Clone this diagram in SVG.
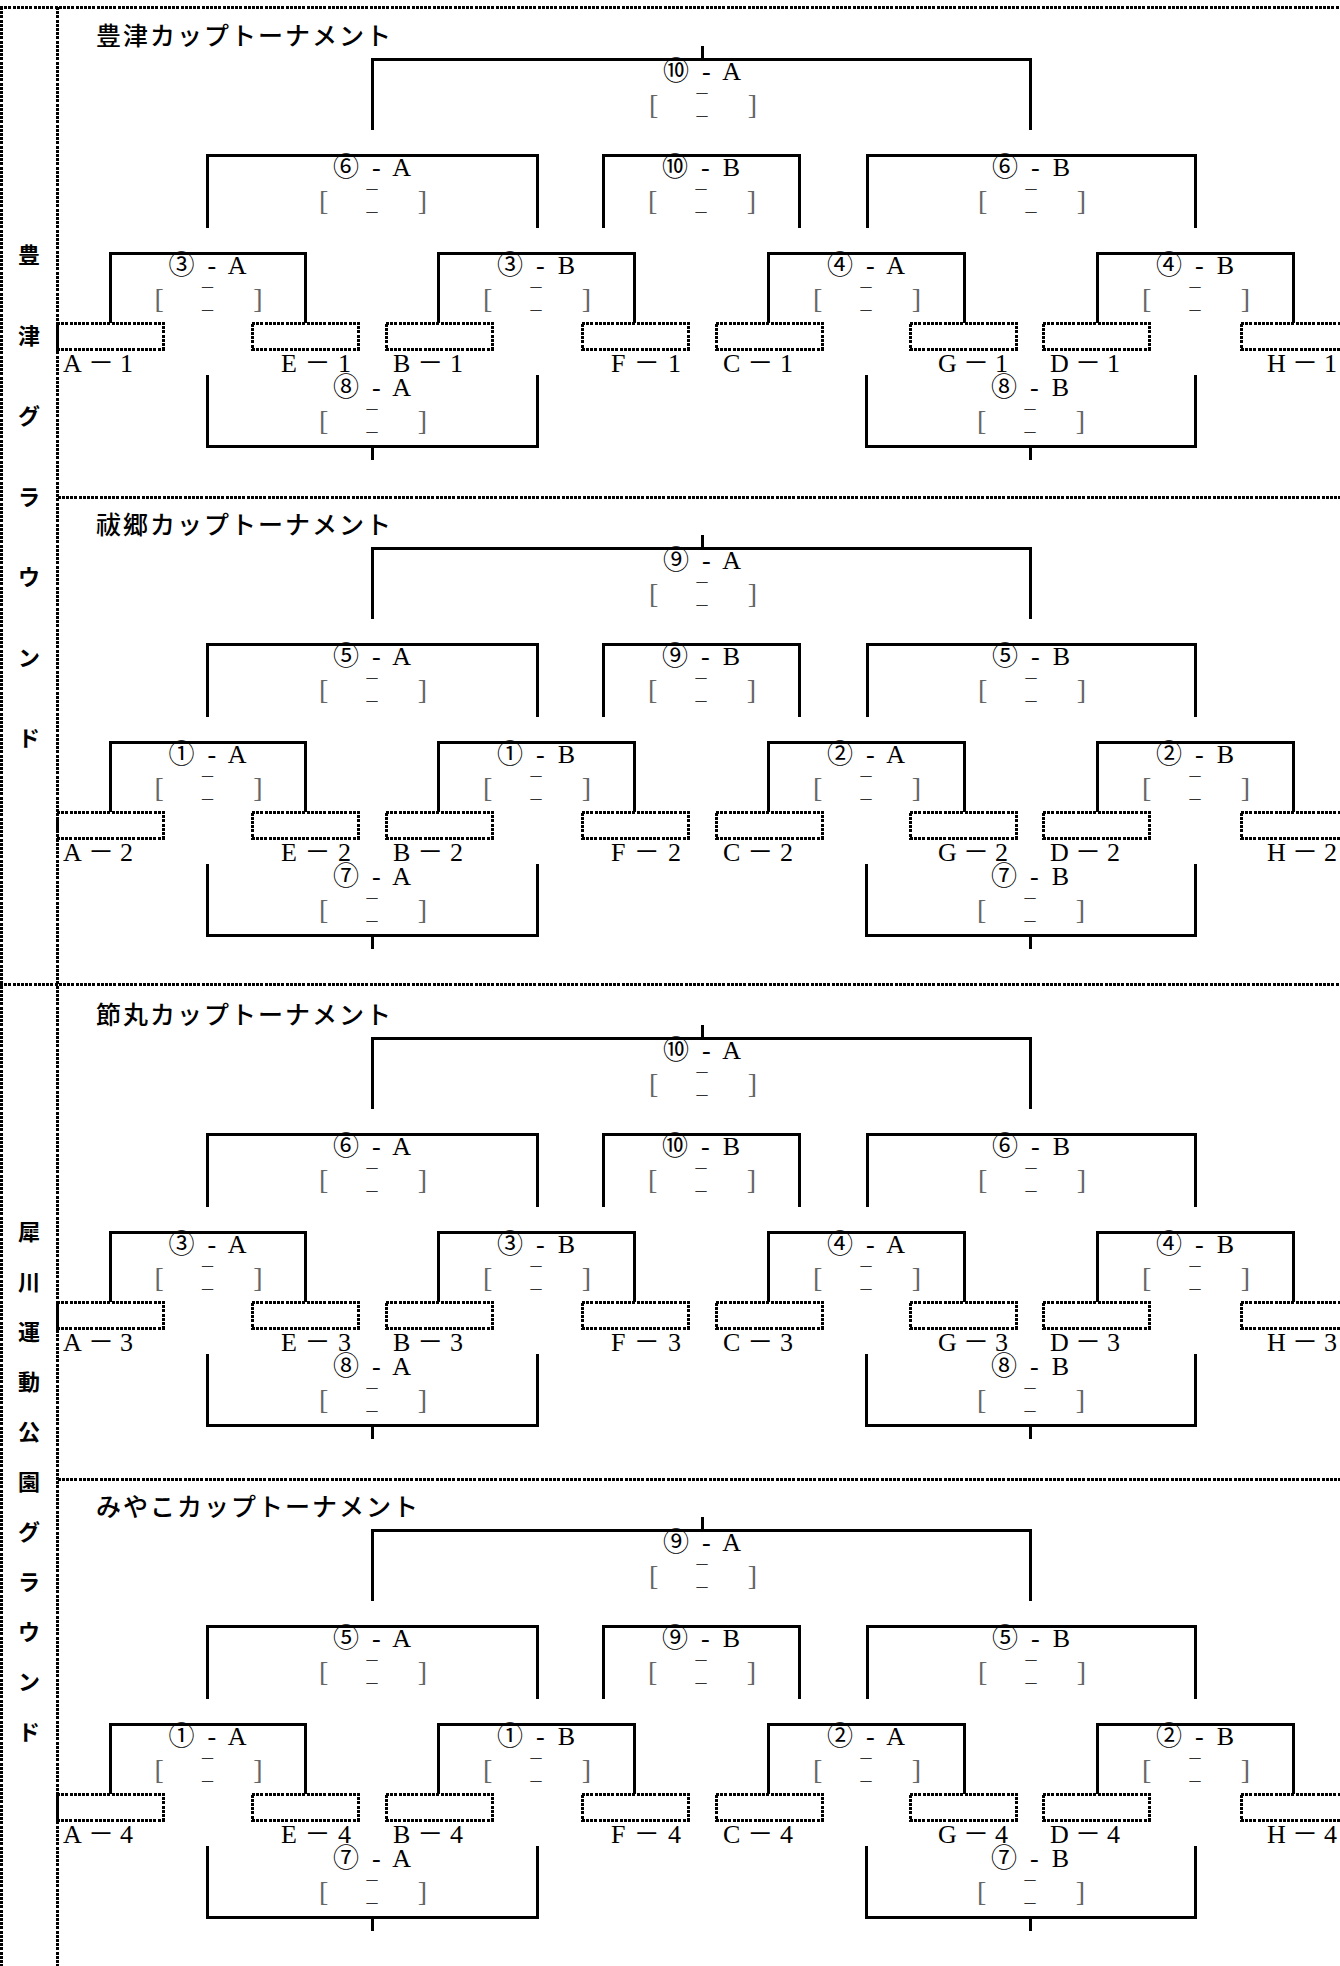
<svg xmlns="http://www.w3.org/2000/svg" xmlns:xlink="http://www.w3.org/1999/xlink" width="1340" height="1966" viewBox="0 0 1340 1966">
<style>
.dot{fill:none;stroke:#000;stroke-width:3;stroke-dasharray:3 1.2;shape-rendering:crispEdges}
.ln{fill:none;stroke:#000;stroke-width:3;shape-rendering:crispEdges}
.title{font-family:"Noto Sans CJK JP",sans-serif;font-size:25px;letter-spacing:2px;font-weight:500}
.side{font-family:"Noto Sans CJK JP",sans-serif;font-size:22px;font-weight:bold;text-anchor:middle}
.lb{font-family:"Liberation Serif","Noto Sans CJK JP",serif;font-size:26px;text-anchor:middle}
.tm{font-family:"Liberation Serif","Noto Sans CJK JP",serif;font-size:26px}
.br{font-family:"Liberation Serif",serif;font-size:28px;fill:#666}
.ds{font-family:"Liberation Serif",serif;font-size:22px;fill:#333;text-anchor:middle}
</style>
<defs>
<g id="score">
<text class="br" x="-53" y="34">[</text>
<text class="br" x="55" y="34" text-anchor="end">]</text>
<text class="ds" x="0" y="19">–</text>
<text class="ds" x="0" y="42">–</text>
</g>
</defs>
<rect width="1340" height="1966" fill="#fff"/>
<g id="frame" class="dot">
<line x1="0" y1="7" x2="1340" y2="7"/>
<line x1="1.5" y1="7" x2="1.5" y2="1966"/>
<line x1="57.5" y1="7" x2="57.5" y2="1966"/>
<line x1="57.5" y1="497" x2="1340" y2="497"/>
<line x1="0" y1="984" x2="1340" y2="984"/>
<line x1="57.5" y1="1479" x2="1340" y2="1479"/>
</g>
<g id="side1" class="side">
<text x="29" y="263">豊</text><text x="29" y="343.5">津</text><text x="29" y="424">グ</text><text x="29" y="504.5">ラ</text><text x="29" y="585">ウ</text><text x="29" y="665.5">ン</text><text x="29" y="746">ド</text>
</g>
<g id="side2" class="side">
<text x="29" y="1240">犀</text><text x="29" y="1290">川</text><text x="29" y="1340">運</text><text x="29" y="1390">動</text><text x="29" y="1440">公</text><text x="29" y="1490">園</text><text x="29" y="1540">グ</text><text x="29" y="1590">ラ</text><text x="29" y="1640">ウ</text><text x="29" y="1690">ン</text><text x="29" y="1740">ド</text>
</g>

<g id="sec1">
<text id="s1-title" class="title" x="96" y="45">豊津カップトーナメント</text>
<g id="s1-connectors" class="ln">
<path d="M372,130V59H1030V130M702,46V59"/>
<path d="M207,228V155H537V228"/><path d="M603,228V155H799V228"/><path d="M867,228V155H1195V228"/>
<path d="M110,323V253H305V323"/><path d="M438,323V253H634V323"/><path d="M768,323V253H964V323"/><path d="M1097,323V253H1293V323"/>
<path d="M207,375V446H537V375M372,446V460"/><path d="M866,375V446H1195V375M1030,446V460"/>
</g>
<g id="s1-m10A"><text class="lb" x="702" y="80" textLength="78">⑩ - A</text><use href="#score" x="702" y="80"/></g>
<g id="s1-m6A"><text class="lb" x="372" y="176" textLength="78">⑥ - A</text><use href="#score" x="372" y="176"/></g>
<g id="s1-m10B"><text class="lb" x="701" y="176" textLength="78">⑩ - B</text><use href="#score" x="701" y="176"/></g>
<g id="s1-m6B"><text class="lb" x="1031" y="176" textLength="78">⑥ - B</text><use href="#score" x="1031" y="176"/></g>
<g id="s1-m3A"><text class="lb" x="207.5" y="274" textLength="78">③ - A</text><use href="#score" x="207.5" y="274"/></g>
<g id="s1-m3B"><text class="lb" x="536" y="274" textLength="78">③ - B</text><use href="#score" x="536" y="274"/></g>
<g id="s1-m4A"><text class="lb" x="866" y="274" textLength="78">④ - A</text><use href="#score" x="866" y="274"/></g>
<g id="s1-m4B"><text class="lb" x="1195" y="274" textLength="78">④ - B</text><use href="#score" x="1195" y="274"/></g>
<g id="s1-m8A"><text class="lb" x="372" y="396" textLength="78">⑧ - A</text><use href="#score" x="372" y="396"/></g>
<g id="s1-m8B"><text class="lb" x="1030" y="396" textLength="78">⑧ - B</text><use href="#score" x="1030" y="396"/></g>
<g id="s1-A"><rect class="dot" x="57" y="323" width="106" height="26"/><text class="tm" x="63" y="372" textLength="70">A－1</text></g>
<g id="s1-E"><rect class="dot" x="252" y="323" width="106" height="26"/><text class="tm" x="281" y="372" textLength="70">E－1</text></g>
<g id="s1-B"><rect class="dot" x="386" y="323" width="106" height="26"/><text class="tm" x="393" y="372" textLength="70">B－1</text></g>
<g id="s1-F"><rect class="dot" x="582" y="323" width="106" height="26"/><text class="tm" x="611" y="372" textLength="70">F－1</text></g>
<g id="s1-C"><rect class="dot" x="716" y="323" width="106" height="26"/><text class="tm" x="723" y="372" textLength="70">C－1</text></g>
<g id="s1-G"><rect class="dot" x="910" y="323" width="106" height="26"/><text class="tm" x="938" y="372" textLength="70">G－1</text></g>
<g id="s1-D"><rect class="dot" x="1043" y="323" width="106" height="26"/><text class="tm" x="1050" y="372" textLength="70">D－1</text></g>
<g id="s1-H"><rect class="dot" x="1241" y="323" width="106" height="26"/><text class="tm" x="1267" y="372" textLength="70">H－1</text></g>
</g>

<g id="sec2" transform="translate(0,489)">
<text id="s2-title" class="title" x="96" y="45">祓郷カップトーナメント</text>
<g id="s2-connectors" class="ln">
<path d="M372,130V59H1030V130M702,46V59"/>
<path d="M207,228V155H537V228"/><path d="M603,228V155H799V228"/><path d="M867,228V155H1195V228"/>
<path d="M110,323V253H305V323"/><path d="M438,323V253H634V323"/><path d="M768,323V253H964V323"/><path d="M1097,323V253H1293V323"/>
<path d="M207,375V446H537V375M372,446V460"/><path d="M866,375V446H1195V375M1030,446V460"/>
</g>
<g id="s2-m9A"><text class="lb" x="702" y="80" textLength="78">⑨ - A</text><use href="#score" x="702" y="80"/></g>
<g id="s2-m5A"><text class="lb" x="372" y="176" textLength="78">⑤ - A</text><use href="#score" x="372" y="176"/></g>
<g id="s2-m9B"><text class="lb" x="701" y="176" textLength="78">⑨ - B</text><use href="#score" x="701" y="176"/></g>
<g id="s2-m5B"><text class="lb" x="1031" y="176" textLength="78">⑤ - B</text><use href="#score" x="1031" y="176"/></g>
<g id="s2-m1A"><text class="lb" x="207.5" y="274" textLength="78">① - A</text><use href="#score" x="207.5" y="274"/></g>
<g id="s2-m1B"><text class="lb" x="536" y="274" textLength="78">① - B</text><use href="#score" x="536" y="274"/></g>
<g id="s2-m2A"><text class="lb" x="866" y="274" textLength="78">② - A</text><use href="#score" x="866" y="274"/></g>
<g id="s2-m2B"><text class="lb" x="1195" y="274" textLength="78">② - B</text><use href="#score" x="1195" y="274"/></g>
<g id="s2-m7A"><text class="lb" x="372" y="396" textLength="78">⑦ - A</text><use href="#score" x="372" y="396"/></g>
<g id="s2-m7B"><text class="lb" x="1030" y="396" textLength="78">⑦ - B</text><use href="#score" x="1030" y="396"/></g>
<g id="s2-A"><rect class="dot" x="57" y="323" width="106" height="26"/><text class="tm" x="63" y="372" textLength="70">A－2</text></g>
<g id="s2-E"><rect class="dot" x="252" y="323" width="106" height="26"/><text class="tm" x="281" y="372" textLength="70">E－2</text></g>
<g id="s2-B"><rect class="dot" x="386" y="323" width="106" height="26"/><text class="tm" x="393" y="372" textLength="70">B－2</text></g>
<g id="s2-F"><rect class="dot" x="582" y="323" width="106" height="26"/><text class="tm" x="611" y="372" textLength="70">F－2</text></g>
<g id="s2-C"><rect class="dot" x="716" y="323" width="106" height="26"/><text class="tm" x="723" y="372" textLength="70">C－2</text></g>
<g id="s2-G"><rect class="dot" x="910" y="323" width="106" height="26"/><text class="tm" x="938" y="372" textLength="70">G－2</text></g>
<g id="s2-D"><rect class="dot" x="1043" y="323" width="106" height="26"/><text class="tm" x="1050" y="372" textLength="70">D－2</text></g>
<g id="s2-H"><rect class="dot" x="1241" y="323" width="106" height="26"/><text class="tm" x="1267" y="372" textLength="70">H－2</text></g>
</g>

<g id="sec3" transform="translate(0,979)">
<text id="s3-title" class="title" x="96" y="45">節丸カップトーナメント</text>
<g id="s3-connectors" class="ln">
<path d="M372,130V59H1030V130M702,46V59"/>
<path d="M207,228V155H537V228"/><path d="M603,228V155H799V228"/><path d="M867,228V155H1195V228"/>
<path d="M110,323V253H305V323"/><path d="M438,323V253H634V323"/><path d="M768,323V253H964V323"/><path d="M1097,323V253H1293V323"/>
<path d="M207,375V446H537V375M372,446V460"/><path d="M866,375V446H1195V375M1030,446V460"/>
</g>
<g id="s3-m10A"><text class="lb" x="702" y="80" textLength="78">⑩ - A</text><use href="#score" x="702" y="80"/></g>
<g id="s3-m6A"><text class="lb" x="372" y="176" textLength="78">⑥ - A</text><use href="#score" x="372" y="176"/></g>
<g id="s3-m10B"><text class="lb" x="701" y="176" textLength="78">⑩ - B</text><use href="#score" x="701" y="176"/></g>
<g id="s3-m6B"><text class="lb" x="1031" y="176" textLength="78">⑥ - B</text><use href="#score" x="1031" y="176"/></g>
<g id="s3-m3A"><text class="lb" x="207.5" y="274" textLength="78">③ - A</text><use href="#score" x="207.5" y="274"/></g>
<g id="s3-m3B"><text class="lb" x="536" y="274" textLength="78">③ - B</text><use href="#score" x="536" y="274"/></g>
<g id="s3-m4A"><text class="lb" x="866" y="274" textLength="78">④ - A</text><use href="#score" x="866" y="274"/></g>
<g id="s3-m4B"><text class="lb" x="1195" y="274" textLength="78">④ - B</text><use href="#score" x="1195" y="274"/></g>
<g id="s3-m8A"><text class="lb" x="372" y="396" textLength="78">⑧ - A</text><use href="#score" x="372" y="396"/></g>
<g id="s3-m8B"><text class="lb" x="1030" y="396" textLength="78">⑧ - B</text><use href="#score" x="1030" y="396"/></g>
<g id="s3-A"><rect class="dot" x="57" y="323" width="106" height="26"/><text class="tm" x="63" y="372" textLength="70">A－3</text></g>
<g id="s3-E"><rect class="dot" x="252" y="323" width="106" height="26"/><text class="tm" x="281" y="372" textLength="70">E－3</text></g>
<g id="s3-B"><rect class="dot" x="386" y="323" width="106" height="26"/><text class="tm" x="393" y="372" textLength="70">B－3</text></g>
<g id="s3-F"><rect class="dot" x="582" y="323" width="106" height="26"/><text class="tm" x="611" y="372" textLength="70">F－3</text></g>
<g id="s3-C"><rect class="dot" x="716" y="323" width="106" height="26"/><text class="tm" x="723" y="372" textLength="70">C－3</text></g>
<g id="s3-G"><rect class="dot" x="910" y="323" width="106" height="26"/><text class="tm" x="938" y="372" textLength="70">G－3</text></g>
<g id="s3-D"><rect class="dot" x="1043" y="323" width="106" height="26"/><text class="tm" x="1050" y="372" textLength="70">D－3</text></g>
<g id="s3-H"><rect class="dot" x="1241" y="323" width="106" height="26"/><text class="tm" x="1267" y="372" textLength="70">H－3</text></g>
</g>

<g id="sec4" transform="translate(0,1471)">
<text id="s4-title" class="title" x="96" y="45">みやこカップトーナメント</text>
<g id="s4-connectors" class="ln">
<path d="M372,130V59H1030V130M702,46V59"/>
<path d="M207,228V155H537V228"/><path d="M603,228V155H799V228"/><path d="M867,228V155H1195V228"/>
<path d="M110,323V253H305V323"/><path d="M438,323V253H634V323"/><path d="M768,323V253H964V323"/><path d="M1097,323V253H1293V323"/>
<path d="M207,375V446H537V375M372,446V460"/><path d="M866,375V446H1195V375M1030,446V460"/>
</g>
<g id="s4-m9A"><text class="lb" x="702" y="80" textLength="78">⑨ - A</text><use href="#score" x="702" y="80"/></g>
<g id="s4-m5A"><text class="lb" x="372" y="176" textLength="78">⑤ - A</text><use href="#score" x="372" y="176"/></g>
<g id="s4-m9B"><text class="lb" x="701" y="176" textLength="78">⑨ - B</text><use href="#score" x="701" y="176"/></g>
<g id="s4-m5B"><text class="lb" x="1031" y="176" textLength="78">⑤ - B</text><use href="#score" x="1031" y="176"/></g>
<g id="s4-m1A"><text class="lb" x="207.5" y="274" textLength="78">① - A</text><use href="#score" x="207.5" y="274"/></g>
<g id="s4-m1B"><text class="lb" x="536" y="274" textLength="78">① - B</text><use href="#score" x="536" y="274"/></g>
<g id="s4-m2A"><text class="lb" x="866" y="274" textLength="78">② - A</text><use href="#score" x="866" y="274"/></g>
<g id="s4-m2B"><text class="lb" x="1195" y="274" textLength="78">② - B</text><use href="#score" x="1195" y="274"/></g>
<g id="s4-m7A"><text class="lb" x="372" y="396" textLength="78">⑦ - A</text><use href="#score" x="372" y="396"/></g>
<g id="s4-m7B"><text class="lb" x="1030" y="396" textLength="78">⑦ - B</text><use href="#score" x="1030" y="396"/></g>
<g id="s4-A"><rect class="dot" x="57" y="323" width="106" height="26"/><text class="tm" x="63" y="372" textLength="70">A－4</text></g>
<g id="s4-E"><rect class="dot" x="252" y="323" width="106" height="26"/><text class="tm" x="281" y="372" textLength="70">E－4</text></g>
<g id="s4-B"><rect class="dot" x="386" y="323" width="106" height="26"/><text class="tm" x="393" y="372" textLength="70">B－4</text></g>
<g id="s4-F"><rect class="dot" x="582" y="323" width="106" height="26"/><text class="tm" x="611" y="372" textLength="70">F－4</text></g>
<g id="s4-C"><rect class="dot" x="716" y="323" width="106" height="26"/><text class="tm" x="723" y="372" textLength="70">C－4</text></g>
<g id="s4-G"><rect class="dot" x="910" y="323" width="106" height="26"/><text class="tm" x="938" y="372" textLength="70">G－4</text></g>
<g id="s4-D"><rect class="dot" x="1043" y="323" width="106" height="26"/><text class="tm" x="1050" y="372" textLength="70">D－4</text></g>
<g id="s4-H"><rect class="dot" x="1241" y="323" width="106" height="26"/><text class="tm" x="1267" y="372" textLength="70">H－4</text></g>
</g>
</svg>
